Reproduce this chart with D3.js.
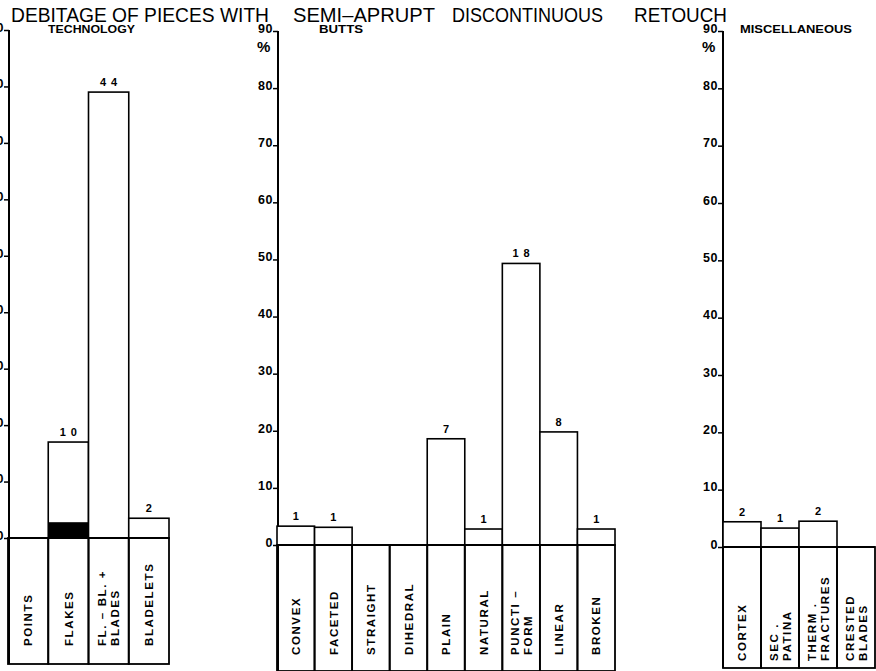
<!DOCTYPE html>
<html>
<head>
<meta charset="utf-8">
<script src="https://cdn.jsdelivr.net/npm/d3@7"></script>
<style>
  html, body { margin: 0; padding: 0; background: #fff; }
  svg { display: block; }
  text { font-family: "Liberation Sans", Arial, Helvetica, sans-serif; fill: #000; }
</style>
</head>
<body>
<svg id="chart" width="876" height="671"></svg>
<script>
// ---------------- DATA ----------------
const titleWords = ["DEBITAGE OF PIECES WITH", "SEMI\u2013APRUPT", "DISCONTINUOUS", "RETOUCH"];
const yTicks = [0, 10, 20, 30, 40, 50, 60, 70, 80, 90];

const techTitle = "TECHNOLOGY";
const techCategories = ["POINTS", "FLAKES", "FL. \u2013 BL. +\nBLADES", "BLADELETS"];
const techValues = [0, 17.0, 79.0, 3.5];
const techDark = [0, 2.8, 0, 0];
const techCounts = ["", "10", "44", "2"];

const buttsTitle = "BUTTS";
const buttsCategories = ["CONVEX", "FACETED", "STRAIGHT", "DIHEDRAL", "PLAIN", "NATURAL", "PUNCTI  \u2013\nFORM", "LINEAR", "BROKEN"];
const buttsValues = [3.3, 3.1, 0, 0, 18.6, 2.8, 49.3, 19.8, 2.8];
const buttsCounts = ["1", "1", "", "", "7", "1", "18", "8", "1"];

const miscTitle = "MISCELLANEOUS";
const miscCategories = ["CORTEX", "SEC .\nPATINA", "THERM .\nFRACTURES", "CRESTED\nBLADES"];
const miscValues = [4.4, 3.3, 4.5, 0];
const miscCounts = ["2", "1", "2", ""];

// ---------------- LAYOUT ----------------
const svg = d3.select("#chart");
svg.append("rect").attr("width", 876).attr("height", 671).attr("fill", "#fff");

// Title words
const titleLayout = [
  {x: 11, w: 258}, {x: 293, w: 142}, {x: 452, w: 151}, {x: 634, w: 93}
];
svg.selectAll("text.title").data(titleWords).join("text")
  .attr("class", "title")
  .attr("x", (d, i) => titleLayout[i].x)
  .attr("y", 22)
  .attr("font-size", 20.5)
  .attr("textLength", (d, i) => titleLayout[i].w)
  .attr("lengthAdjust", "spacingAndGlyphs")
  .text(d => d);

const panels = [
  {title: techTitle, cats: techCategories, vals: techValues, dark: techDark, counts: techCounts,
   axisX: 9, zeroY: 538, topY: 30, x0: 8, x1: 169, boxBottom: 664, labelStart: 646,
   titleX: 48, titleW: 87, showPct: false},
  {title: buttsTitle, cats: buttsCategories, vals: buttsValues, dark: null, counts: buttsCounts,
   axisX: 278, zeroY: 545, topY: 31, x0: 277, x1: 615, boxBottom: 671, labelStart: 655,
   titleX: 319, titleW: 44, showPct: true},
  {title: miscTitle, cats: miscCategories, vals: miscValues, dark: null, counts: miscCounts,
   axisX: 723, zeroY: 547, topY: 31, x0: 723, x1: 875, boxBottom: 668, labelStart: 661,
   titleX: 740, titleW: 112, showPct: true}
];

panels.forEach(p => {
  const g = svg.append("g");
  const y = d3.scaleLinear().domain([0, 90]).range([p.zeroY, p.topY]);
  const x = d3.scaleBand().domain(p.cats).range([p.x0, p.x1]).padding(0);

  // panel subtitle
  g.append("text")
    .attr("x", p.titleX).attr("y", 33)
    .attr("font-size", 10.5).attr("font-weight", "bold")
    .attr("textLength", p.titleW).attr("lengthAdjust", "spacingAndGlyphs")
    .text(p.title);

  // axis
  const axis = d3.axisLeft(y).tickValues(yTicks).tickSize(5).tickSizeOuter(0).tickPadding(0);
  const ag = g.append("g").attr("transform", `translate(${p.axisX},0)`).call(axis);
  ag.select(".domain").remove();
  ag.selectAll(".tick line").attr("stroke", "#000").attr("stroke-width", 1.5);
  ag.selectAll(".tick text")
    .attr("font-size", 12.5).attr("font-weight", "bold")
    .attr("font-family", "'Liberation Sans', Arial, sans-serif")
    .attr("letter-spacing", 0.6)
    .attr("fill", "#000").attr("dy", "0.1em").attr("x", -5);
  // axis line, continuing down as the left side of the label boxes
  g.append("line")
    .attr("x1", p.axisX).attr("x2", p.axisX)
    .attr("y1", y(90)).attr("y2", p.boxBottom)
    .attr("stroke", "#000").attr("stroke-width", 2);

  if (p.showPct) {
    g.append("text")
      .attr("x", p.axisX - 21).attr("y", y(90) + 21)
      .attr("font-size", 15).attr("font-weight", "bold")
      .text("%");
  }

  const data = p.cats.map((c, i) => ({cat: c, v: p.vals[i], d: p.dark ? p.dark[i] : 0, n: p.counts[i]}));

  // bars
  g.selectAll("rect.bar").data(data.filter(d => d.v > 0)).join("rect")
    .attr("class", "bar")
    .attr("x", d => x(d.cat)).attr("width", x.bandwidth())
    .attr("y", d => y(d.v)).attr("height", d => y(0) - y(d.v))
    .attr("fill", "#fff").attr("stroke", "#000").attr("stroke-width", 1.6);

  // dark part
  g.selectAll("rect.dark").data(data.filter(d => d.d > 0)).join("rect")
    .attr("class", "dark")
    .attr("x", d => x(d.cat)).attr("width", x.bandwidth())
    .attr("y", d => y(d.d)).attr("height", d => y(0) - y(d.d))
    .attr("fill", "#000");

  // counts above bars
  g.selectAll("text.count").data(data.filter(d => d.n !== "")).join("text")
    .attr("class", "count")
    .attr("x", d => x(d.cat) + x.bandwidth() / 2 + (d.n.length > 1 ? 2.5 : 0))
    .attr("y", d => y(d.v) - 6)
    .attr("text-anchor", "middle")
    .attr("font-size", 11).attr("font-weight", "bold")
    .attr("letter-spacing", d => d.n.length > 1 ? 5 : 0)
    .text(d => d.n);

  // zero baseline
  g.append("line")
    .attr("x1", p.axisX).attr("x2", p.x1)
    .attr("y1", y(0)).attr("y2", y(0))
    .attr("stroke", "#000").attr("stroke-width", 2);

  // label boxes
  g.selectAll("rect.box").data(data).join("rect")
    .attr("class", "box")
    .attr("x", d => x(d.cat)).attr("width", x.bandwidth())
    .attr("y", y(0)).attr("height", p.boxBottom - y(0))
    .attr("fill", "none").attr("stroke", "#000").attr("stroke-width", 1.8);

  // rotated category labels
  const lbl = g.selectAll("text.cat").data(data).join("text")
    .attr("class", "cat")
    .attr("transform", d => `translate(${x(d.cat) + x.bandwidth() / 2},${p.labelStart}) rotate(-90)`)
    .attr("font-size", 11.5).attr("font-weight", "bold")
    .attr("letter-spacing", 1.6);
  lbl.each(function(d) {
    const lines = d.cat.split("\n");
    const t = d3.select(this);
    lines.forEach((ln, i) => {
      t.append("tspan")
        .attr("x", 0)
        .attr("y", (i - (lines.length - 1) / 2) * 13 + 4.2)
        .text(ln);
    });
  });
});
</script>
</body>
</html>
